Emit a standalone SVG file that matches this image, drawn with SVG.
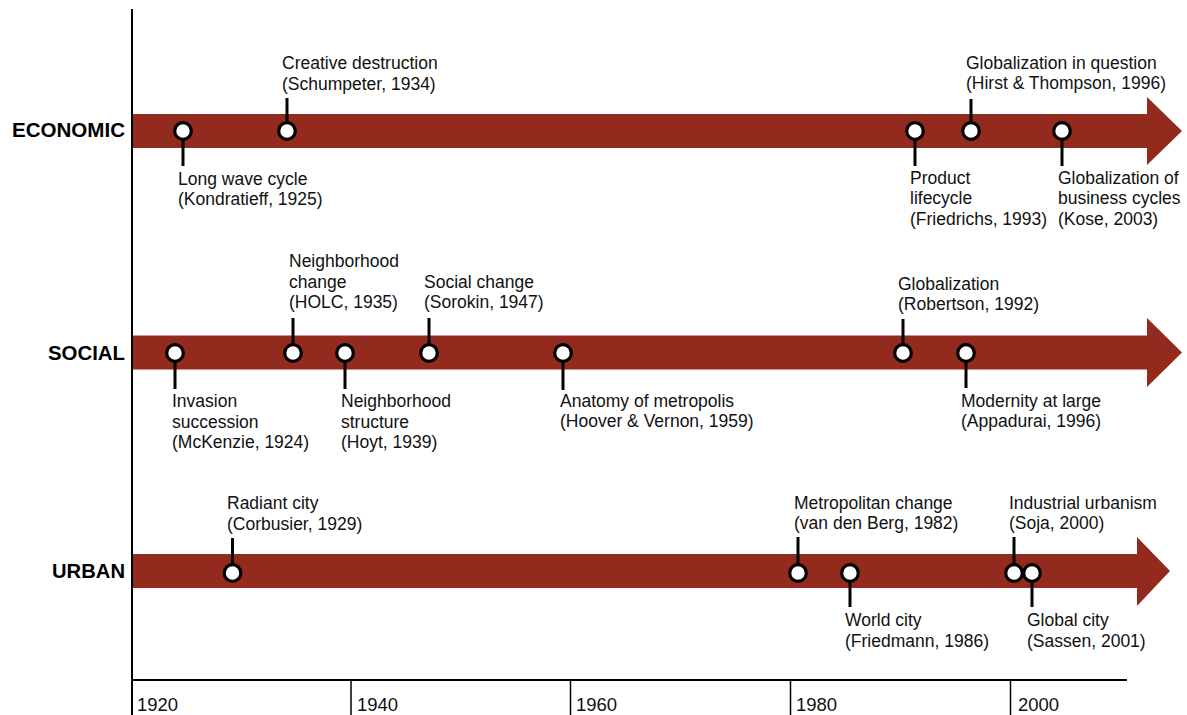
<svg xmlns="http://www.w3.org/2000/svg" width="1187" height="715" viewBox="0 0 1187 715">
<style>
.lbl{font-family:"Liberation Sans",Arial,sans-serif;font-size:17.5px;fill:#111}
.cat{font-family:"Liberation Sans",Arial,sans-serif;font-size:20px;font-weight:bold;fill:#000;text-anchor:end}
.yr{font-family:"Liberation Sans",Arial,sans-serif;font-size:18.5px;fill:#111}
.bar{fill:#922A1D}
.stem{stroke:#000;stroke-width:3;fill:none}
.dot{fill:#fff;stroke:#000;stroke-width:3.2}
.axis{stroke:#000;stroke-width:2;fill:none}
.tick{stroke:#000;stroke-width:1.5;fill:none}
</style>
<rect width="1187" height="715" fill="#fff"/>
<g id="axes">
  <line class="axis" x1="132" y1="9" x2="132" y2="715"/>
  <line class="axis" x1="132" y1="680" x2="1127" y2="680"/>
  <line class="tick" x1="351" y1="680" x2="351" y2="715"/>
  <line class="tick" x1="570.5" y1="680" x2="570.5" y2="715"/>
  <line class="tick" x1="790.5" y1="680" x2="790.5" y2="715"/>
  <line class="tick" x1="1010.5" y1="680" x2="1010.5" y2="715"/>
  <text class="yr" x="137" y="711">1920</text>
  <text class="yr" x="357" y="711">1940</text>
  <text class="yr" x="576" y="711">1960</text>
  <text class="yr" x="796" y="711">1980</text>
  <text class="yr" x="1018" y="711">2000</text>
</g>
<g id="economic">
  <polygon class="bar" points="133,114 1147,114 1147,97 1182,131 1147,165 1147,148 133,148"/>
  <text class="cat" x="125" y="137" textLength="113" lengthAdjust="spacingAndGlyphs">ECONOMIC</text>
</g>
<g id="social">
  <polygon class="bar" points="133,335.5 1147,335.5 1147,318 1182,352.5 1147,387 1147,369.5 133,369.5"/>
  <text class="cat" x="125" y="360" textLength="77" lengthAdjust="spacingAndGlyphs">SOCIAL</text>
</g>
<g id="urban">
  <polygon class="bar" points="133,554 1137,554 1137,537 1170,571 1137,606 1137,588 133,588"/>
  <text class="cat" x="125" y="578" textLength="73" lengthAdjust="spacingAndGlyphs">URBAN</text>
</g>
<g id="connectors">
  <line class="stem" x1="183" y1="131" x2="183" y2="166"/>
  <line class="stem" x1="287" y1="131" x2="287" y2="98"/>
  <line class="stem" x1="915" y1="131" x2="915" y2="166"/>
  <line class="stem" x1="971" y1="131" x2="971" y2="99"/>
  <line class="stem" x1="1062" y1="131" x2="1062" y2="166"/>
  <line class="stem" x1="175" y1="353" x2="175" y2="389"/>
  <line class="stem" x1="293" y1="353" x2="293" y2="318"/>
  <line class="stem" x1="345" y1="353" x2="345" y2="389"/>
  <line class="stem" x1="429" y1="353" x2="429" y2="318"/>
  <line class="stem" x1="563" y1="353" x2="563" y2="390"/>
  <line class="stem" x1="903" y1="353" x2="903" y2="319"/>
  <line class="stem" x1="966" y1="353" x2="966" y2="388"/>
  <line class="stem" x1="232.5" y1="573" x2="232.5" y2="538"/>
  <line class="stem" x1="798" y1="573" x2="798" y2="537"/>
  <line class="stem" x1="850" y1="573" x2="850" y2="607"/>
  <line class="stem" x1="1014" y1="573" x2="1014" y2="537"/>
  <line class="stem" x1="1032" y1="573" x2="1032" y2="607"/>
</g>
<g id="e1"><circle class="dot" cx="183" cy="131" r="8.3"/><text class="lbl" x="178"><tspan x="178" y="184.5">Long wave cycle</tspan><tspan x="178" y="205">(Kondratieff, 1925)</tspan></text></g>
<g id="e2"><circle class="dot" cx="287" cy="131" r="8.3"/><text class="lbl"><tspan x="282" y="69">Creative destruction</tspan><tspan x="282" y="89.5">(Schumpeter, 1934)</tspan></text></g>
<g id="e3"><circle class="dot" cx="915" cy="131" r="8.3"/><text class="lbl"><tspan x="910" y="183.5">Product</tspan><tspan x="910" y="204">lifecycle</tspan><tspan x="910" y="224.5">(Friedrichs, 1993)</tspan></text></g>
<g id="e4"><circle class="dot" cx="971" cy="131" r="8.3"/><text class="lbl"><tspan x="966" y="68.5">Globalization in question</tspan><tspan x="966" y="89">(Hirst &amp; Thompson, 1996)</tspan></text></g>
<g id="e5"><circle class="dot" cx="1062" cy="131" r="8.3"/><text class="lbl"><tspan x="1058" y="183.5">Globalization of</tspan><tspan x="1058" y="204">business cycles</tspan><tspan x="1058" y="224.5">(Kose, 2003)</tspan></text></g>
<g id="s1"><circle class="dot" cx="175" cy="353" r="8.3"/><text class="lbl"><tspan x="172" y="406.5">Invasion</tspan><tspan x="172" y="427.5">succession</tspan><tspan x="172" y="448">(McKenzie, 1924)</tspan></text></g>
<g id="s2"><circle class="dot" cx="293" cy="353" r="8.3"/><text class="lbl"><tspan x="289" y="267">Neighborhood</tspan><tspan x="289" y="287.5">change</tspan><tspan x="289" y="308">(HOLC, 1935)</tspan></text></g>
<g id="s3"><circle class="dot" cx="345" cy="353" r="8.3"/><text class="lbl"><tspan x="341" y="406.5">Neighborhood</tspan><tspan x="341" y="427.5">structure</tspan><tspan x="341" y="448">(Hoyt, 1939)</tspan></text></g>
<g id="s4"><circle class="dot" cx="429" cy="353" r="8.3"/><text class="lbl"><tspan x="424" y="287.5">Social change</tspan><tspan x="424" y="308">(Sorokin, 1947)</tspan></text></g>
<g id="s5"><circle class="dot" cx="563" cy="353" r="8.3"/><text class="lbl"><tspan x="560" y="406.5">Anatomy of metropolis</tspan><tspan x="560" y="427">(Hoover &amp; Vernon, 1959)</tspan></text></g>
<g id="s6"><circle class="dot" cx="903" cy="353" r="8.3"/><text class="lbl"><tspan x="898" y="289.5">Globalization</tspan><tspan x="898" y="310">(Robertson, 1992)</tspan></text></g>
<g id="s7"><circle class="dot" cx="966" cy="353" r="8.3"/><text class="lbl"><tspan x="961" y="406.5">Modernity at large</tspan><tspan x="961" y="427">(Appadurai, 1996)</tspan></text></g>
<g id="u1"><circle class="dot" cx="232.5" cy="573" r="8.3"/><text class="lbl"><tspan x="227" y="509">Radiant city</tspan><tspan x="227" y="529.5">(Corbusier, 1929)</tspan></text></g>
<g id="u2"><circle class="dot" cx="798" cy="573" r="8.3"/><text class="lbl"><tspan x="794" y="508.5">Metropolitan change</tspan><tspan x="794" y="529">(van den Berg, 1982)</tspan></text></g>
<g id="u3"><circle class="dot" cx="850" cy="573" r="8.3"/><text class="lbl"><tspan x="845" y="626">World city</tspan><tspan x="845" y="646.5">(Friedmann, 1986)</tspan></text></g>
<g id="u4"><circle class="dot" cx="1014" cy="573" r="8.3"/><text class="lbl"><tspan x="1009" y="508.5">Industrial urbanism</tspan><tspan x="1009" y="529">(Soja, 2000)</tspan></text></g>
<g id="u5"><circle class="dot" cx="1032" cy="573" r="8.3"/><text class="lbl"><tspan x="1027" y="626">Global city</tspan><tspan x="1027" y="646.5">(Sassen, 2001)</tspan></text></g>
</svg>
